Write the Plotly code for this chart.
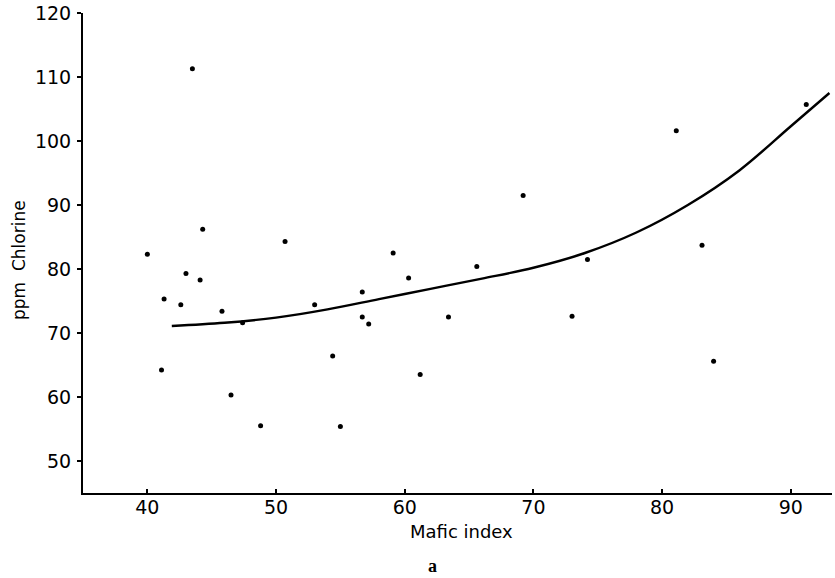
import plotly.graph_objects as go

# Scatter data: Mafic index vs ppm Chlorine
mafic_index = [40.0, 41.3, 41.1, 42.6, 43.0, 43.5, 44.3, 44.1, 45.8, 47.4, 46.5,
               48.8, 50.7, 53.0, 54.4, 55.0, 56.7, 56.7, 57.2, 59.1, 60.3, 61.2,
               63.4, 65.6, 69.2, 73.0, 74.2, 81.1, 83.1, 84.0, 91.2]
chlorine_ppm = [82.3, 75.3, 64.2, 74.4, 79.3, 111.3, 86.2, 78.3, 73.4, 71.6, 60.3,
                55.5, 84.3, 74.4, 66.4, 55.4, 76.4, 72.5, 71.4, 82.5, 78.6, 63.5,
                72.5, 80.4, 91.5, 72.6, 81.5, 101.6, 83.7, 65.6, 105.7]

# Fitted curve
curve_x = [41.9, 46, 50, 54, 58, 62, 66, 70, 74, 78, 82, 86, 90, 93.0]
curve_y = [71.1, 71.6, 72.4, 73.7, 75.3, 76.9, 78.5, 80.2, 82.5, 85.7, 90.0, 95.4, 102.3, 107.5]

x_ticks = [40, 50, 60, 70, 80, 90]
y_ticks = [50, 60, 70, 80, 90, 100, 110, 120]

fig = go.Figure()
fig.add_trace(go.Scatter(x=curve_x, y=curve_y, mode="lines",
                         line=dict(color="black", width=2.4, shape="spline", smoothing=1.0),
                         hoverinfo="skip"))
fig.add_trace(go.Scatter(x=mafic_index, y=chlorine_ppm, mode="markers",
                         marker=dict(color="black", size=5, symbol="circle")))

tick_font = dict(family="DejaVu Sans", size=19, color="black")

fig.update_layout(
    width=835, height=578,
    margin=dict(l=83, r=3, t=13, b=85),
    paper_bgcolor="white", plot_bgcolor="white",
    showlegend=False,
    xaxis=dict(range=[35, 93.2], tickvals=x_ticks, ticktext=[str(v) for v in x_ticks],
               showgrid=False, zeroline=False, showline=True, linecolor="black", linewidth=2,
               ticks="inside", ticklen=4, tickwidth=2, tickcolor="black",
               tickfont=tick_font, ticklabelstandoff=-4),
    yaxis=dict(range=[45, 120], tickvals=y_ticks, ticktext=[str(v) for v in y_ticks],
               showgrid=False, zeroline=False, showline=True, linecolor="black", linewidth=2,
               ticks="outside", ticklen=4, tickwidth=2, tickcolor="black",
               tickfont=tick_font, ticklabelstandoff=2),
    annotations=[
        dict(text="Mafic index", xref="paper", yref="paper", x=(462 - 83) / 749, y=-(531 - 493) / 480,
             showarrow=False, xanchor="center", yanchor="middle",
             font=dict(family="DejaVu Sans", size=18, color="black")),
        dict(text="ppm  Chlorine", xref="paper", yref="paper", x=-(83 - 19) / 749, y=(493 - 260) / 480,
             showarrow=False, xanchor="center", yanchor="middle", textangle=-90,
             font=dict(family="DejaVu Sans", size=17, color="black")),
        dict(text="<b>a</b>", xref="paper", yref="paper", x=(432 - 83) / 749, y=-(566 - 493) / 480,
             showarrow=False, xanchor="center", yanchor="middle",
             font=dict(family="Liberation Serif", size=18, color="black")),
    ],
)

fig.write_html("out.html")
